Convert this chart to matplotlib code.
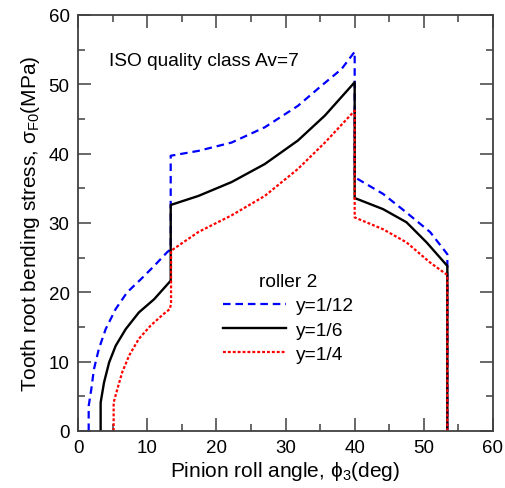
import matplotlib
matplotlib.use("Agg")
import matplotlib.pyplot as plt

plt.rcParams['font.family'] = ['Liberation Sans', 'DejaVu Sans']
plt.rcParams['mathtext.fontset'] = 'custom'
plt.rcParams['mathtext.rm'] = 'Liberation Sans'
plt.rcParams['mathtext.it'] = 'Liberation Sans'

# Data (roll angle in deg, stress in MPa)
x_y12 = [1.54, 1.54, 1.93, 2.3, 3.0, 4.0, 5.45, 7.1, 9.1, 11.0, 12.9, 13.4, 13.4, 17.4, 22.2, 27.0, 31.8, 35.2, 38.1, 40.0,
         40.0, 44.1, 47.5, 50.9, 53.4, 53.4]
s_y12 = [0.0, 3.6, 6.1, 8.9, 11.8, 14.7, 17.6, 20.0, 21.9, 23.8, 25.8, 26.2, 39.7, 40.4, 41.6, 43.8, 46.9, 49.8, 52.2, 54.7,
         36.6, 34.2, 31.5, 28.7, 25.5, 0.0]

x_y6 = [3.27, 3.27, 3.76, 4.5, 5.45, 6.9, 8.8, 11.0, 13.15, 13.4, 13.4, 17.4, 22.2, 27.0, 31.8, 35.7, 40.0,
        40.0, 44.1, 47.5, 50.4, 53.4, 53.4]
s_y6 = [0.0, 4.1, 7.0, 9.9, 12.3, 14.7, 17.1, 19.0, 21.4, 21.7, 32.6, 33.9, 35.9, 38.5, 41.9, 45.5, 50.3,
        33.6, 32.0, 30.1, 27.2, 23.8, 0.0]

x_y4 = [5.15, 5.15, 5.7, 6.4, 7.4, 8.8, 10.5, 12.4, 13.3, 13.45, 13.45, 17.4, 22.2, 27.0, 31.8, 35.7, 40.0,
        40.0, 44.1, 47.5, 50.9, 53.4, 53.4]
s_y4 = [0.0, 4.1, 6.1, 8.5, 10.9, 13.3, 15.2, 16.9, 17.6, 18.5, 26.0, 28.7, 31.1, 33.9, 37.8, 41.6, 46.2,
        30.8, 29.1, 27.2, 24.3, 22.5, 0.0]

labels = ['y=1/12', 'y=1/6', 'y=1/4']

fig = plt.figure(figsize=(5.06, 4.89), dpi=100)
ax = fig.add_axes([0.1542, 0.1166, 0.8201, 0.8507])

ax.plot(x_y12, s_y12, color='#0000ff', lw=1.6, dashes=(3.4, 2.2), label=labels[0])
ax.plot(x_y6, s_y6, color='black', lw=1.7, label=labels[1])
ax.plot(x_y4, s_y4, color='#ff0000', lw=1.6, dashes=(1.3, 0.9), label=labels[2])

ax.set_xlim(0, 60)
ax.set_ylim(0, 60)
ax.set_xticks(range(0, 61, 10))
ax.set_yticks(range(0, 61, 10))
ax.set_xticks(range(5, 60, 10), minor=True)
ax.set_yticks(range(5, 60, 10), minor=True)
spc = '#404040'
for s in ax.spines.values():
    s.set_color(spc)
    s.set_linewidth(1.3)
ax.tick_params(which='both', direction='in', top=True, right=True, color=spc, width=1.1, labelsize=13.5)
ax.tick_params(which='major', length=9.5, pad=6)
ax.tick_params(which='minor', length=5)

ax.set_xlabel(r'Pinion roll angle, $\mathregular{\phi_3}$(deg)', fontsize=15, labelpad=2)
ax.set_ylabel(r'Tooth root bending stress, $\mathregular{\sigma_{F0}}$(MPa)', fontsize=15, labelpad=5)

ax.text(4.5, 53.4, 'ISO quality class Av=7', fontsize=13.8, va='center', ha='left')

leg = ax.legend(title='roller 2', loc='upper left', bbox_to_anchor=(0.317, 0.412),
                frameon=False, fontsize=13.8, title_fontsize=13.8,
                handlelength=3.3, handletextpad=0.5, labelspacing=0.36, borderpad=0.2)

fig.savefig('out.png', dpi=100)
